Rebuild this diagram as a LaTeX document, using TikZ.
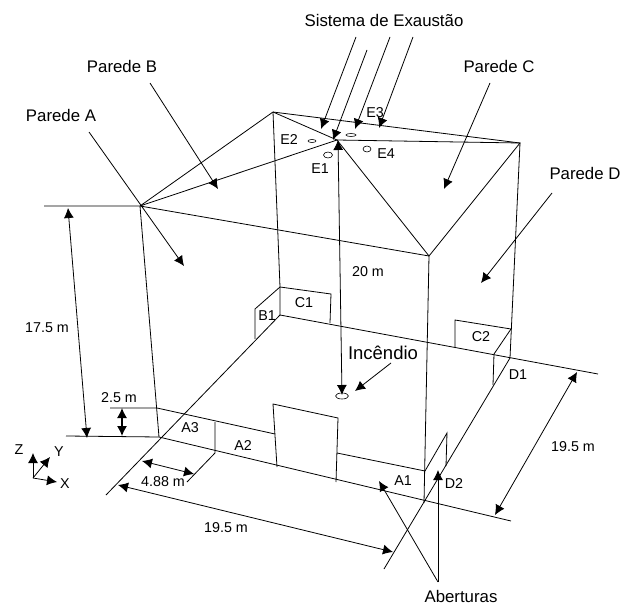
\documentclass[tikz,border=0pt]{standalone}
\usepackage{fontspec}
\setmainfont{Liberation Sans}
\usetikzlibrary{arrows.meta,shapes.geometric}
\tikzset{>={Latex[length=10pt,width=10pt]}}

\begin{document}
\begin{tikzpicture}[x=1pt,y=-1pt,line width=0.8pt,
smalllabel/.style={inner sep=0pt, font=\fontsize{14.3}{16}\selectfont},
biglabel/.style={inner sep=0pt, font=\fontsize{16.8}{19}\selectfont},
firelabel/.style={inner sep=0pt, font=\fontsize{18.5}{21}\selectfont},
holenode/.style={ellipse, draw=black, inner sep=0pt, line width=0.6pt},
]
\useasboundingbox (0,0) rectangle (622,605);

%Corners
\coordinate (Roof Left) at (140,206);
\coordinate (Roof Back) at (273,112);
\coordinate (Roof Center) at (337,140);
\coordinate (Roof Right) at (520,143);
\coordinate (Roof Front) at (429,256);
\coordinate (Left Floor) at (159,437);
\coordinate (Back Floor) at (280,315);
\coordinate (Front Floor) at (424,503);
\coordinate (Right Floor) at (510,358);
\coordinate (Back Upper) at (280,287);

%Openings
\coordinate (A3 Top) at (157,408);
\coordinate (A2 Top) at (275,434);
\coordinate (A3 Mid) at (215,422);
\coordinate (A3 Low) at (215,453);
\coordinate (Door TL) at (273,404);
\coordinate (Door TR) at (338,418);
\coordinate (Door BL) at (277,467);
\coordinate (Door BR) at (336,482);
\coordinate (A1 Left) at (337,453);
\coordinate (A1 Top) at (425,471);
\coordinate (D2 Top) at (447,433);
\coordinate (D2 Low) at (446,466);
\coordinate (B1 Top) at (255,309);
\coordinate (B1 Low) at (255,339);
\coordinate (C1 Top) at (331,294);
\coordinate (C1 Low) at (330,323);
\coordinate (C2 TL) at (455,320);
\coordinate (C2 TR) at (511,329);
\coordinate (C2 Low) at (455,347);
\coordinate (D1 Top) at (494,354);
\coordinate (D1 Low) at (493,385);

%Line ends
\coordinate (Floor Far Left) at (106,495);
\coordinate (Floor Far Right) at (598,374);
\coordinate (Floor Far Front) at (511,521);
\coordinate (Floor Far Down) at (384,569);
\coordinate (Level Top) at (44,206);
\coordinate (Level Low) at (66,436);
\coordinate (Level Mid) at (110,408);
\coordinate (A3 Tick) at (187,482);

%Labels
\node[biglabel](Sistema de Exaustao) at (384,20){Sistema de Exaustão};
\node[biglabel](Parede A) at (61,115){Parede A};
\node[biglabel](Parede B) at (122,66){Parede B};
\node[biglabel](Parede C) at (499,66){Parede C};
\node[biglabel](Parede D) at (585,173){Parede D};
\node[biglabel](Aberturas) at (461,596){Aberturas};
\node[firelabel](Incendio) at (383,353){Incêndio};
\node[smalllabel](E1) at (320,169){E1};
\node[smalllabel](E2) at (289,140){E2};
\node[smalllabel](E3) at (375,113){E3};
\node[smalllabel](E4) at (386,154){E4};
\node[smalllabel](A1) at (403,481){A1};
\node[smalllabel](A2) at (243,446){A2};
\node[smalllabel](A3) at (190,428){A3};
\node[smalllabel](B1) at (267,316){B1};
\node[smalllabel](C1) at (304,303){C1};
\node[smalllabel](C2) at (481,337){C2};
\node[smalllabel](D1) at (518,375){D1};
\node[smalllabel](D2) at (454,484){D2};
\node[smalllabel](Height Wall) at (47,328){17.5 m};
\node[smalllabel](Height Roof) at (368,272){20 m};
\node[smalllabel](Height Opening) at (119,398){2.5 m};
\node[smalllabel](Width Opening) at (163,482){4.88 m};
\node[smalllabel](Width Front) at (226,528){19.5 m};
\node[smalllabel](Width Side) at (573,447){19.5 m};
\node[smalllabel](Z) at (19,450){Z};
\node[smalllabel](Y) at (59,452){Y};
\node[smalllabel](X) at (65,484){X};

%Holes
\node[holenode, minimum width=9pt, minimum height=6pt](E1 Hole) at (328,155){};
\node[holenode, minimum width=8pt, minimum height=3pt](E2 Hole) at (312,141){};
\node[holenode, minimum width=10pt, minimum height=3pt](E3 Hole) at (351,135){};
\node[holenode, minimum width=8pt, minimum height=6pt](E4 Hole) at (367,149){};
\node[holenode, minimum width=13pt, minimum height=6pt](Fire Hole) at (342,396){};

%Roof
\draw (Level Top) -- (Roof Left) -- (Roof Back) -- (Roof Right) -- (Roof Front) -- (Roof Left);
\draw (Roof Left) -- (Roof Center) -- (Roof Back);
\draw (Roof Center) -- (Roof Right);
\draw (Roof Center) -- (Roof Front);

%Walls
\draw (Roof Left) -- (Left Floor);
\draw (Roof Back) -- (Back Upper) -- (Back Floor);
\draw (Roof Front) -- (Front Floor);
\draw (Roof Right) -- (Right Floor);

%Floor
\draw (Level Low) -- (Left Floor) -- (Floor Far Front);
\draw (Floor Far Left) -- (Back Floor) -- (Floor Far Right);
\draw (Right Floor) -- (Floor Far Down);

%Openings
\draw (Level Mid) -- (A3 Top) -- (A2 Top);
\draw (A3 Mid) -- (A3 Low) -- (A3 Tick);
\draw (Door BL) -- (Door TL) -- (Door TR) -- (Door BR);
\draw (A1 Left) -- (A1 Top) -- (D2 Top) -- (D2 Low);
\draw (Back Upper) -- (B1 Top) -- (B1 Low);
\draw (Back Upper) -- (C1 Top) -- (C1 Low);
\draw (C2 Low) -- (C2 TL) -- (C2 TR) -- (D1 Top) -- (D1 Low);

%Arrows
\draw[->] (356,37) -- (321,129);
\draw[->] (367,50) -- (333,140);
\draw[->] (390,37) -- (355,129);
\draw[->] (413,37) -- (379,128);
\draw[->] (89,132) -- (184,266);
\draw[->] (150,83) -- (218,189);
\draw[->] (490,83) -- (444,189);
\draw[->] (552,193) -- (481,283);
\draw[->] (391,363) -- (355,391);
\draw[->] (438,582) -- (379,481);
\draw[->] (438,582) -- (438,470);

%Dimensions
\draw[<->] (338,140) -- (342,395);
\draw[<->] (68,208) -- (87,438);
\draw[<->, line width=1.2pt] (122,408) -- (122,436);
\draw[<->] (142,461) -- (194,474);
\draw[<->] (118,485) -- (393,552);
\draw[<->] (577,372) -- (495,515);

%Axes
\coordinate (Origin) at (33,478);
\draw[->] (Origin) -- (33,453);
\draw[->] (Origin) -- (50,457);
\draw[->] (Origin) -- (57,482);
\end{tikzpicture}
\end{document}
